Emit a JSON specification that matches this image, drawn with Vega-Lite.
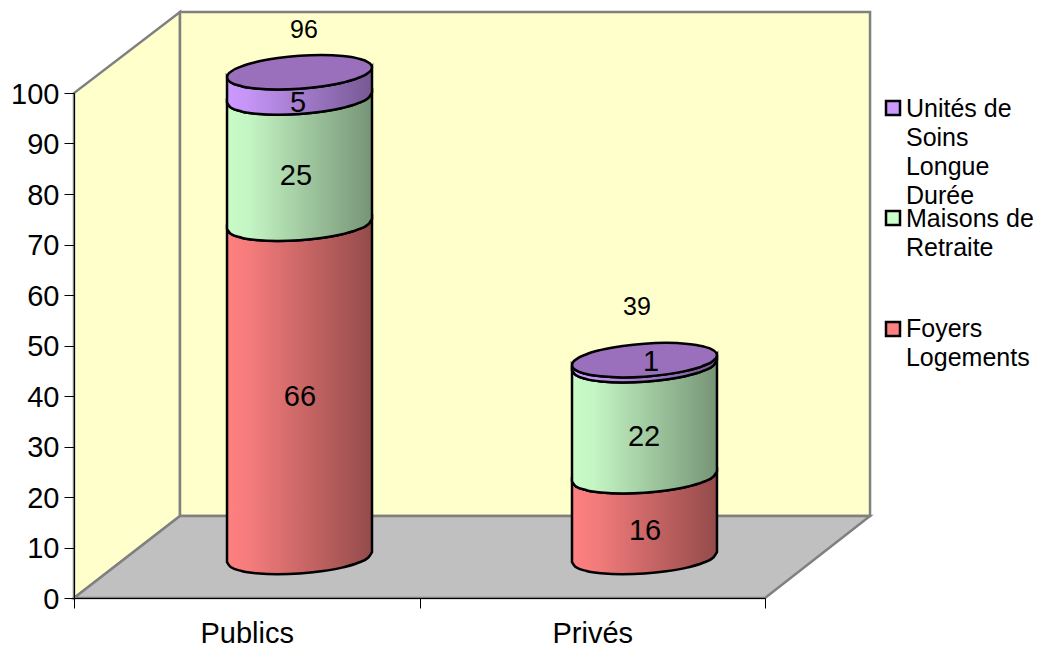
{"$schema":"https://vega.github.io/schema/vega-lite/v6.json","width":691,"height":505,"autosize":"none","padding":{"left":74,"top":93,"right":276,"bottom":49},"background":"white","config":{"view":{"stroke":null},"font":"Liberation Sans"},
"datasets":{
"walls":[{"p":"left","x":0,"y":0,"y2":100},{"p":"left","x":0.3068,"y":16.24,"y2":116.04},{"p":"back","x":0.3068,"y":16.24,"y2":116.04},{"p":"back","x":2.304,"y":16.24,"y2":116.04}],
"floor":[{"y":0,"x":0,"x2":2},{"y":16.24,"x":0.3068,"x2":2.304}],
"series":[{"s":"Unités de Soins Longue Durée","lines":["Unités de","Soins","Longue","Durée"],"x":2.3705,"y":97.03,"tx":2.408,"ty":95.3},{"s":"Maisons de Retraite","lines":["Maisons de","Retraite"],"x":2.3705,"y":75.25,"tx":2.408,"ty":73.5},{"s":"Foyers Logements","lines":["Foyers","Logements"],"x":2.3705,"y":53.27,"tx":2.408,"ty":51.75}],
"labels":[{"k":"seg","t":66,"x":0.6541,"y":40},{"k":"seg","t":25,"x":0.6425,"y":83.8},{"k":"seg","t":5,"x":0.6483,"y":98.2},{"k":"tot","t":96,"x":0.6657,"y":112.7},{"k":"seg","t":16,"x":1.6527,"y":13.5},{"k":"seg","t":22,"x":1.6498,"y":32.1},{"k":"seg","t":1,"x":1.67,"y":46.9},{"k":"tot","t":39,"x":1.6295,"y":57.8}],
"cyl":[
{"c":"Publics","s":"F","x":0.4429,"y":7.11,"y2":73.11},{"c":"Publics","s":"F","x":0.4534,"y":6.14,"y2":72.14},{"c":"Publics","s":"F","x":0.4849,"y":5.35,"y2":71.35},{"c":"Publics","s":"F","x":0.5268,"y":4.89,"y2":70.89},{"c":"Publics","s":"F","x":0.5898,"y":4.68,"y2":70.68},{"c":"Publics","s":"F","x":0.6527,"y":4.83,"y2":70.83},{"c":"Publics","s":"F","x":0.7156,"y":5.28,"y2":71.28},{"c":"Publics","s":"F","x":0.7786,"y":6.07,"y2":72.07},{"c":"Publics","s":"F","x":0.8205,"y":6.93,"y2":72.93},{"c":"Publics","s":"F","x":0.852,"y":8.02,"y2":74.02},{"c":"Publics","s":"F","x":0.8625,"y":9.09,"y2":75.09},
{"c":"Publics","s":"M","x":0.4429,"y":73.11,"y2":98.11},{"c":"Publics","s":"M","x":0.4534,"y":72.14,"y2":97.14},{"c":"Publics","s":"M","x":0.4849,"y":71.35,"y2":96.35},{"c":"Publics","s":"M","x":0.5268,"y":70.89,"y2":95.89},{"c":"Publics","s":"M","x":0.5898,"y":70.68,"y2":95.68},{"c":"Publics","s":"M","x":0.6527,"y":70.83,"y2":95.83},{"c":"Publics","s":"M","x":0.7156,"y":71.28,"y2":96.28},{"c":"Publics","s":"M","x":0.7786,"y":72.07,"y2":97.07},{"c":"Publics","s":"M","x":0.8205,"y":72.93,"y2":97.93},{"c":"Publics","s":"M","x":0.852,"y":74.02,"y2":99.02},{"c":"Publics","s":"M","x":0.8625,"y":75.09,"y2":100.09},
{"c":"Publics","s":"U","x":0.4429,"y":98.11,"y2":103.11},{"c":"Publics","s":"U","x":0.4534,"y":97.14,"y2":102.14},{"c":"Publics","s":"U","x":0.4849,"y":96.35,"y2":101.35},{"c":"Publics","s":"U","x":0.5268,"y":95.89,"y2":100.89},{"c":"Publics","s":"U","x":0.5898,"y":95.68,"y2":100.68},{"c":"Publics","s":"U","x":0.6527,"y":95.83,"y2":100.83},{"c":"Publics","s":"U","x":0.7156,"y":96.28,"y2":101.28},{"c":"Publics","s":"U","x":0.7786,"y":97.07,"y2":102.07},{"c":"Publics","s":"U","x":0.8205,"y":97.93,"y2":102.93},{"c":"Publics","s":"U","x":0.852,"y":99.02,"y2":104.02},{"c":"Publics","s":"U","x":0.8625,"y":100.09,"y2":105.09},
{"c":"Publics","s":"T","x":0.4429,"y":103.11,"y2":103.11},{"c":"Publics","s":"T","x":0.445,"y":102.66,"y2":103.58},{"c":"Publics","s":"T","x":0.4534,"y":102.14,"y2":104.18},{"c":"Publics","s":"T","x":0.4849,"y":101.35,"y2":105.27},{"c":"Publics","s":"T","x":0.5268,"y":100.89,"y2":106.13},{"c":"Publics","s":"T","x":0.5898,"y":100.68,"y2":106.92},{"c":"Publics","s":"T","x":0.6527,"y":100.83,"y2":107.37},{"c":"Publics","s":"T","x":0.7156,"y":101.28,"y2":107.52},{"c":"Publics","s":"T","x":0.7786,"y":102.07,"y2":107.31},{"c":"Publics","s":"T","x":0.8205,"y":102.93,"y2":106.85},{"c":"Publics","s":"T","x":0.852,"y":104.02,"y2":106.06},{"c":"Publics","s":"T","x":0.8604,"y":104.62,"y2":105.54},{"c":"Publics","s":"T","x":0.8625,"y":105.09,"y2":105.09},
{"c":"Privés","s":"F","x":1.4414,"y":7.11,"y2":23.11},{"c":"Privés","s":"F","x":1.4519,"y":6.14,"y2":22.14},{"c":"Privés","s":"F","x":1.4834,"y":5.35,"y2":21.35},{"c":"Privés","s":"F","x":1.5253,"y":4.89,"y2":20.89},{"c":"Privés","s":"F","x":1.5883,"y":4.68,"y2":20.68},{"c":"Privés","s":"F","x":1.6512,"y":4.83,"y2":20.83},{"c":"Privés","s":"F","x":1.7141,"y":5.28,"y2":21.28},{"c":"Privés","s":"F","x":1.7771,"y":6.07,"y2":22.07},{"c":"Privés","s":"F","x":1.819,"y":6.93,"y2":22.93},{"c":"Privés","s":"F","x":1.8505,"y":8.02,"y2":24.02},{"c":"Privés","s":"F","x":1.861,"y":9.09,"y2":25.09},
{"c":"Privés","s":"M","x":1.4414,"y":23.11,"y2":45.11},{"c":"Privés","s":"M","x":1.4519,"y":22.14,"y2":44.14},{"c":"Privés","s":"M","x":1.4834,"y":21.35,"y2":43.35},{"c":"Privés","s":"M","x":1.5253,"y":20.89,"y2":42.89},{"c":"Privés","s":"M","x":1.5883,"y":20.68,"y2":42.68},{"c":"Privés","s":"M","x":1.6512,"y":20.83,"y2":42.83},{"c":"Privés","s":"M","x":1.7141,"y":21.28,"y2":43.28},{"c":"Privés","s":"M","x":1.7771,"y":22.07,"y2":44.07},{"c":"Privés","s":"M","x":1.819,"y":22.93,"y2":44.93},{"c":"Privés","s":"M","x":1.8505,"y":24.02,"y2":46.02},{"c":"Privés","s":"M","x":1.861,"y":25.09,"y2":47.09},
{"c":"Privés","s":"U","x":1.4414,"y":45.11,"y2":46.11},{"c":"Privés","s":"U","x":1.4519,"y":44.14,"y2":45.14},{"c":"Privés","s":"U","x":1.4834,"y":43.35,"y2":44.35},{"c":"Privés","s":"U","x":1.5253,"y":42.89,"y2":43.89},{"c":"Privés","s":"U","x":1.5883,"y":42.68,"y2":43.68},{"c":"Privés","s":"U","x":1.6512,"y":42.83,"y2":43.83},{"c":"Privés","s":"U","x":1.7141,"y":43.28,"y2":44.28},{"c":"Privés","s":"U","x":1.7771,"y":44.07,"y2":45.07},{"c":"Privés","s":"U","x":1.819,"y":44.93,"y2":45.93},{"c":"Privés","s":"U","x":1.8505,"y":46.02,"y2":47.02},{"c":"Privés","s":"U","x":1.861,"y":47.09,"y2":48.09},
{"c":"Privés","s":"T","x":1.4414,"y":46.11,"y2":46.11},{"c":"Privés","s":"T","x":1.4435,"y":45.66,"y2":46.58},{"c":"Privés","s":"T","x":1.4519,"y":45.14,"y2":47.18},{"c":"Privés","s":"T","x":1.4834,"y":44.35,"y2":48.27},{"c":"Privés","s":"T","x":1.5253,"y":43.89,"y2":49.13},{"c":"Privés","s":"T","x":1.5883,"y":43.68,"y2":49.92},{"c":"Privés","s":"T","x":1.6512,"y":43.83,"y2":50.37},{"c":"Privés","s":"T","x":1.7141,"y":44.28,"y2":50.52},{"c":"Privés","s":"T","x":1.7771,"y":45.07,"y2":50.31},{"c":"Privés","s":"T","x":1.819,"y":45.93,"y2":49.85},{"c":"Privés","s":"T","x":1.8505,"y":47.02,"y2":49.06},{"c":"Privés","s":"T","x":1.8589,"y":47.62,"y2":48.54},{"c":"Privés","s":"T","x":1.861,"y":48.09,"y2":48.09}
]},
"layer":[
{"data":{"name":"walls"},"mark":{"type":"area","color":"#FFFFCC","stroke":"#808080","strokeWidth":2.5},"encoding":{"detail":{"field":"p"},
"x":{"field":"x","type":"quantitative","scale":{"domain":[0,2],"nice":false,"zero":false},"axis":{"title":null,"values":[0,0.5,1,1.5,2],"labelExpr":"datum.value==0.5?'Publics':datum.value==1.5?'Privés':''","labelFontSize":29,"labelColor":"black","labelFont":"Liberation Sans","labelPadding":11,"tickSize":10,"tickColor":"black","domainColor":"black","grid":false,"zindex":1,"labelFlush":false,"labelOverlap":false,"tickOpacity":{"condition":{"test":"datum.value==0.5||datum.value==1.5","value":0},"value":1}}},
"y":{"field":"y","type":"quantitative","scale":{"domain":[0,100],"nice":false,"zero":false},"axis":{"title":null,"values":[0,10,20,30,40,50,60,70,80,90,100],"labelFontSize":29,"labelColor":"black","labelFont":"Liberation Sans","labelPadding":5,"labelOffset":1,"tickSize":10,"tickColor":"black","domainColor":"black","grid":false,"zindex":1,"labelFlush":false,"labelOverlap":false}},
"y2":{"field":"y2"}}},
{"data":{"name":"floor"},"mark":{"type":"area","orient":"horizontal","color":"#C0C0C0","stroke":"#808080","strokeWidth":2.5},"encoding":{"y":{"field":"y","type":"quantitative"},"x":{"field":"x","type":"quantitative"},"x2":{"field":"x2"}}},
{"data":{"name":"cyl"},"transform":[{"filter":"datum.s=='F'"}],"mark":{"type":"area","interpolate":"monotone","stroke":"black","strokeWidth":2.5,"color":{"gradient":"linear","x1":0,"y1":0,"x2":1,"y2":0,"stops":[{"offset":0,"color":"#FF8080"},{"offset":0.15,"color":"#F57C7C"},{"offset":1,"color":"#944B4B"}]}},"encoding":{"detail":{"field":"c"},"x":{"field":"x","type":"quantitative"},"y":{"field":"y","type":"quantitative"},"y2":{"field":"y2"}}},
{"data":{"name":"cyl"},"transform":[{"filter":"datum.s=='M'"}],"mark":{"type":"area","interpolate":"monotone","stroke":"black","strokeWidth":2.5,"color":{"gradient":"linear","x1":0,"y1":0,"x2":1,"y2":0,"stops":[{"offset":0,"color":"#C8FBC8"},{"offset":0.15,"color":"#C4F5C4"},{"offset":1,"color":"#769476"}]}},"encoding":{"detail":{"field":"c"},"x":{"field":"x","type":"quantitative"},"y":{"field":"y","type":"quantitative"},"y2":{"field":"y2"}}},
{"data":{"name":"cyl"},"transform":[{"filter":"datum.s=='U'"}],"mark":{"type":"area","interpolate":"monotone","stroke":"black","strokeWidth":2.5,"color":{"gradient":"linear","x1":0,"y1":0,"x2":1,"y2":0,"stops":[{"offset":0,"color":"#CC99FF"},{"offset":0.15,"color":"#C494F5"},{"offset":1,"color":"#765994"}]}},"encoding":{"detail":{"field":"c"},"x":{"field":"x","type":"quantitative"},"y":{"field":"y","type":"quantitative"},"y2":{"field":"y2"}}},
{"data":{"name":"cyl"},"transform":[{"filter":"datum.s=='T'"}],"mark":{"type":"area","interpolate":"monotone","stroke":"black","strokeWidth":2.5,"color":"#9A70BC"},"encoding":{"detail":{"field":"c"},"x":{"field":"x","type":"quantitative"},"y":{"field":"y","type":"quantitative"},"y2":{"field":"y2"}}},
{"data":{"name":"labels"},"transform":[{"filter":"datum.k=='seg'"}],"mark":{"type":"text","fontSize":29,"dy":1,"font":"Liberation Sans","color":"black"},"encoding":{"x":{"field":"x","type":"quantitative"},"y":{"field":"y","type":"quantitative"},"text":{"field":"t"}}},
{"data":{"name":"labels"},"transform":[{"filter":"datum.k=='tot'"}],"mark":{"type":"text","fontSize":25,"dy":1,"font":"Liberation Sans","color":"black"},"encoding":{"x":{"field":"x","type":"quantitative"},"y":{"field":"y","type":"quantitative"},"text":{"field":"t"}}},
{"data":{"name":"series"},"mark":{"type":"point","size":196,"filled":true,"shape":"square","opacity":1,"stroke":"black","strokeWidth":2.5},"encoding":{"x":{"field":"x","type":"quantitative"},"y":{"field":"y","type":"quantitative"},
"fill":{"field":"s","type":"nominal","scale":{"domain":["Unités de Soins Longue Durée","Maisons de Retraite","Foyers Logements"],"range":["#CC99FF","#CCFFCC","#FF8080"]},"legend":null}}},
{"data":{"name":"series"},"mark":{"type":"text","fontSize":25,"font":"Liberation Sans","color":"black","align":"left","baseline":"alphabetic","lineHeight":29},"encoding":{"x":{"field":"tx","type":"quantitative"},"y":{"field":"ty","type":"quantitative"},"text":{"field":"lines"}}}
]}
